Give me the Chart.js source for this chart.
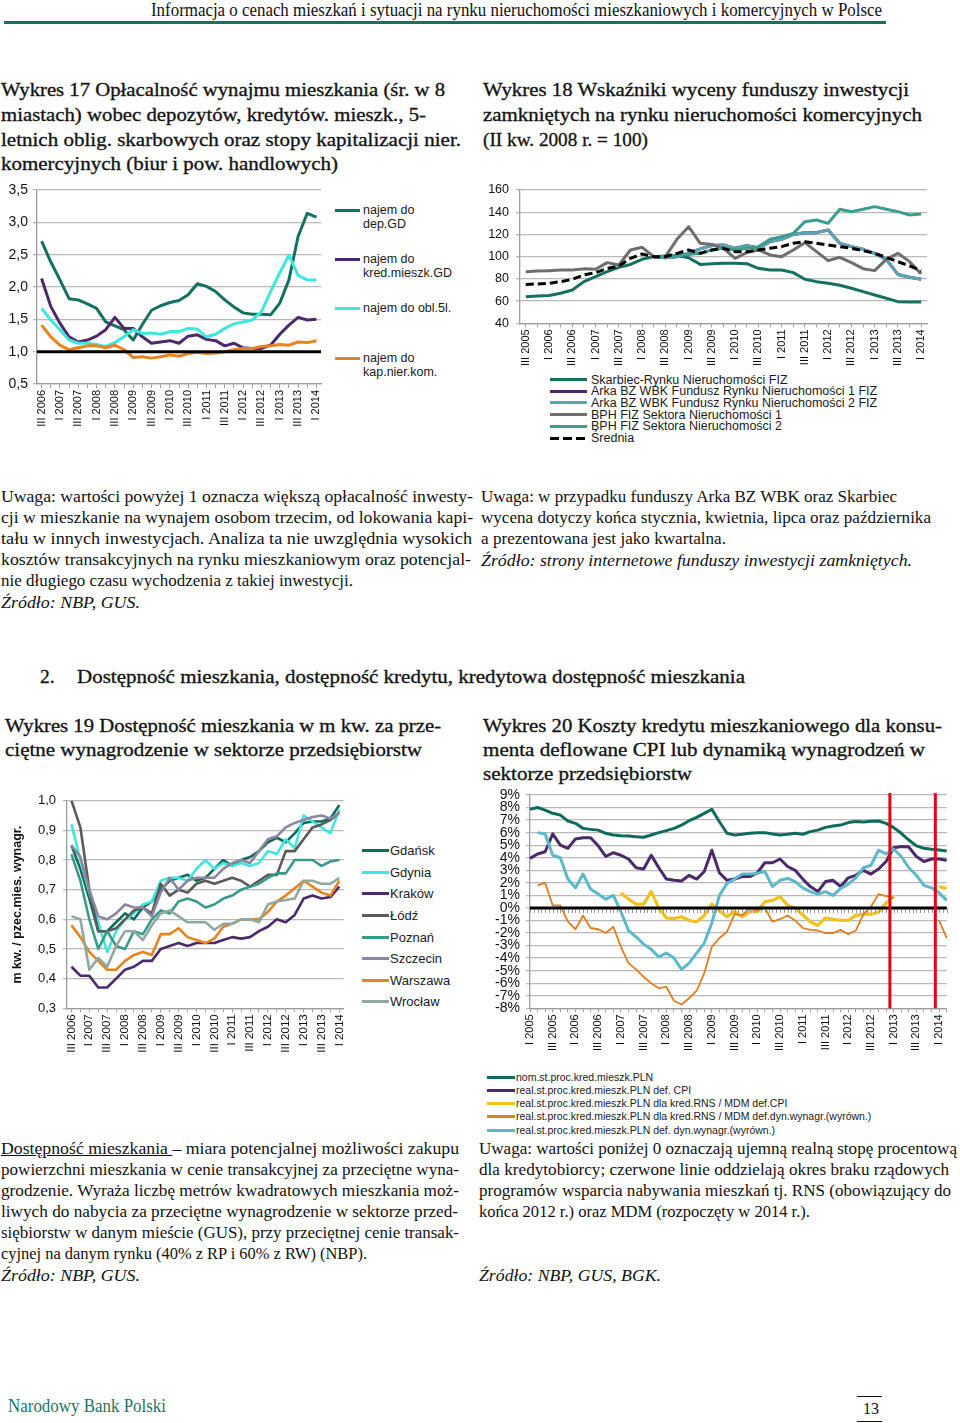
<!DOCTYPE html>
<html lang="pl"><head><meta charset="utf-8">
<title>Informacja o cenach mieszkań – wykresy 17–20</title>
<script src="https://cdn.jsdelivr.net/npm/chart.js@4.4.1/dist/chart.umd.min.js"></script>
<style>
html,body{margin:0;padding:0;background:#fff;}
#page{position:relative;width:960px;height:1423px;overflow:hidden;font-family:"Liberation Serif","Times New Roman",serif;color:#111;}
.l{position:absolute;white-space:nowrap;transform-origin:0 50%;}
.ttl{font-size:19.5px;line-height:24.5px;color:#141414;-webkit-text-stroke:0.35px #141414;}
.txt{font-size:16px;line-height:21px;}
.it{font-style:italic;}
canvas{position:absolute;}
.sw{position:absolute;height:3px;}
.lt{position:absolute;font-family:"Liberation Sans",Arial,sans-serif;white-space:nowrap;color:#1a1a1a;}
</style></head><body><div id="page">

<div class="l" style="left:151px;top:0px;font-size:18px;line-height:20px" data-w="731">Informacja o cenach mieszkań i sytuacji na rynku nieruchomości mieszkaniowych i komercyjnych w Polsce</div>
<div style="position:absolute;left:4px;top:21px;width:882px;height:2.5px;background:#1e6c64"></div>

<!-- Titles 17 / 18 -->
<div class="l ttl" style="left:1px;top:78px" data-w="444">Wykres 17 Opłacalność wynajmu mieszkania (śr. w 8</div>
<div class="l ttl" style="left:1px;top:103px" data-w="425">miastach) wobec depozytów, kredytów. mieszk., 5-</div>
<div class="l ttl" style="left:1px;top:128px" data-w="460">letnich oblig. skarbowych oraz stopy kapitalizacji nier.</div>
<div class="l ttl" style="left:1px;top:152px" data-w="337">komercyjnych (biur i pow. handlowych)</div>

<div class="l ttl" style="left:483px;top:78px" data-w="426">Wykres 18 Wskaźniki wyceny funduszy inwestycji</div>
<div class="l ttl" style="left:483px;top:103px" data-w="439">zamkniętych na rynku nieruchomości komercyjnych</div>
<div class="l ttl" style="left:483px;top:128px" data-w="165">(II kw. 2008 r. = 100)</div>

<canvas id="c17" width="330" height="250" style="left:0px;top:180px"></canvas>
<canvas id="c18" width="470" height="190" style="left:480px;top:180px"></canvas>

<!-- legend 17 -->
<div class="sw" style="left:335px;top:208.5px;width:25px;background:#14705f"></div>
<div class="lt" style="left:363px;top:203px;font-size:12.5px;line-height:14px">najem do<br>dep.GD</div>
<div class="sw" style="left:335px;top:257.5px;width:25px;background:#4b2a6b"></div>
<div class="lt" style="left:363px;top:252px;font-size:12.5px;line-height:14px">najem do<br>kred.mieszk.GD</div>
<div class="sw" style="left:335px;top:306.5px;width:25px;background:#3fe6dc"></div>
<div class="lt" style="left:363px;top:301px;font-size:12.5px;line-height:14px">najem do obl.5l.</div>
<div class="sw" style="left:335px;top:356.5px;width:25px;background:#e8831f"></div>
<div class="lt" style="left:363px;top:351px;font-size:12.5px;line-height:14px">najem do<br>kap.nier.kom.</div>

<!-- legend 18 -->
<div class="sw" style="left:550px;top:378px;width:37px;background:#16705f"></div>
<div class="lt" style="left:591px;top:373.5px;font-size:12.5px;line-height:12px">Skarbiec-Rynku Nieruchomości FIZ</div>
<div class="sw" style="left:550px;top:389.7px;width:37px;background:#4b2a6b"></div>
<div class="lt" style="left:591px;top:385.2px;font-size:12.5px;line-height:12px">Arka BZ WBK Fundusz Rynku Nieruchomości 1 FIZ</div>
<div class="sw" style="left:550px;top:401.4px;width:37px;background:#5da3b3"></div>
<div class="lt" style="left:591px;top:396.9px;font-size:12.5px;line-height:12px">Arka BZ WBK Fundusz Rynku Nieruchomości 2 FIZ</div>
<div class="sw" style="left:550px;top:413.1px;width:37px;background:#6e6e6e"></div>
<div class="lt" style="left:591px;top:408.6px;font-size:12.5px;line-height:12px">BPH FIZ Sektora Nieruchomości 1</div>
<div class="sw" style="left:550px;top:424.8px;width:37px;background:#3d9d8c"></div>
<div class="lt" style="left:591px;top:420.3px;font-size:12.5px;line-height:12px">BPH FIZ Sektora Nieruchomości 2</div>
<div class="sw" style="left:550px;top:436.5px;width:37px;background:repeating-linear-gradient(90deg,#000 0 9px,transparent 9px 13px)"></div>
<div class="lt" style="left:591px;top:432px;font-size:12.5px;line-height:12px">Średnia</div>

<!-- notes 17 -->
<div class="l txt" style="left:1px;top:485.5px" data-w="472">Uwaga: wartości powyżej 1 oznacza większą opłacalność inwesty-</div>
<div class="l txt" style="left:1px;top:506.5px" data-w="472">cji w mieszkanie na wynajem osobom trzecim, od lokowania kapi-</div>
<div class="l txt" style="left:1px;top:527.5px" data-w="471">tału w innych inwestycjach. Analiza ta nie uwzględnia wysokich</div>
<div class="l txt" style="left:1px;top:548.5px" data-w="470">kosztów transakcyjnych na rynku mieszkaniowym oraz potencjal-</div>
<div class="l txt" style="left:1px;top:569.5px" data-w="352">nie długiego czasu wychodzenia z takiej inwestycji.</div>
<div class="l txt it" style="left:1px;top:591.5px" data-w="139">Źródło: NBP, GUS.</div>

<!-- notes 18 -->
<div class="l txt" style="left:481px;top:485.5px" data-w="416">Uwaga: w przypadku funduszy Arka BZ WBK oraz Skarbiec</div>
<div class="l txt" style="left:481px;top:506.5px" data-w="450">wycena dotyczy końca stycznia, kwietnia, lipca oraz października</div>
<div class="l txt" style="left:481px;top:527.5px" data-w="245">a prezentowana jest jako kwartalna.</div>
<div class="l txt it" style="left:481px;top:549.5px" data-w="431">Źródło: strony internetowe funduszy inwestycji zamkniętych.</div>

<!-- section heading -->
<div class="l ttl" style="left:40px;top:665px">2.</div>
<div class="l ttl" style="left:77px;top:665px" data-w="668">Dostępność mieszkania, dostępność kredytu, kredytowa dostępność mieszkania</div>

<!-- Titles 19 / 20 -->
<div class="l ttl" style="left:5px;top:714px" data-w="436">Wykres 19 Dostępność mieszkania w m kw. za prze-</div>
<div class="l ttl" style="left:5px;top:738px" data-w="417">ciętne wynagrodzenie w sektorze przedsiębiorstw</div>
<div class="l ttl" style="left:483px;top:714px" data-w="459">Wykres 20 Koszty kredytu mieszkaniowego dla konsu-</div>
<div class="l ttl" style="left:483px;top:738px" data-w="442">menta deflowane CPI lub dynamiką wynagrodzeń w</div>
<div class="l ttl" style="left:483px;top:762px" data-w="209">sektorze przedsiębiorstw</div>

<canvas id="c19" width="352" height="270" style="left:0px;top:790px"></canvas>
<canvas id="c20" width="475" height="270" style="left:480px;top:785px"></canvas>

<!-- legend 19 -->
<div class="sw" style="left:362px;top:849.2px;width:27px;background:#0f6b5c"></div>
<div class="lt" style="left:390px;top:843.2px;font-size:13px;line-height:15px">Gdańsk</div>
<div class="sw" style="left:362px;top:870.8px;width:27px;background:#3fe6dc"></div>
<div class="lt" style="left:390px;top:864.8px;font-size:13px;line-height:15px">Gdynia</div>
<div class="sw" style="left:362px;top:892.4px;width:27px;background:#4b2a6b"></div>
<div class="lt" style="left:390px;top:886.4px;font-size:13px;line-height:15px">Kraków</div>
<div class="sw" style="left:362px;top:914px;width:27px;background:#5a5a5a"></div>
<div class="lt" style="left:390px;top:908px;font-size:13px;line-height:15px">Łódź</div>
<div class="sw" style="left:362px;top:935.6px;width:27px;background:#3a9a89"></div>
<div class="lt" style="left:390px;top:929.6px;font-size:13px;line-height:15px">Poznań</div>
<div class="sw" style="left:362px;top:957.2px;width:27px;background:#8b86a1"></div>
<div class="lt" style="left:390px;top:951.2px;font-size:13px;line-height:15px">Szczecin</div>
<div class="sw" style="left:362px;top:978.8px;width:27px;background:#e8831f"></div>
<div class="lt" style="left:390px;top:972.8px;font-size:13px;line-height:15px">Warszawa</div>
<div class="sw" style="left:362px;top:1000.4px;width:27px;background:#8ea9a0"></div>
<div class="lt" style="left:390px;top:994.4px;font-size:13px;line-height:15px">Wrocław</div>

<!-- legend 20 -->
<div class="sw" style="left:487px;top:1075.5px;width:28px;background:#0f6b5c"></div>
<div class="lt" style="left:516px;top:1070.5px;font-size:10.5px;line-height:13px">nom.st.proc.kred.mieszk.PLN</div>
<div class="sw" style="left:487px;top:1088.8px;width:28px;background:#4b2a6b"></div>
<div class="lt" style="left:516px;top:1083.8px;font-size:10.5px;line-height:13px">real.st.proc.kred.mieszk.PLN def. CPI</div>
<div class="sw" style="left:487px;top:1102.1px;width:28px;background:#f3c11c"></div>
<div class="lt" style="left:516px;top:1097.1px;font-size:10.5px;line-height:13px">real.st.proc.kred.mieszk.PLN dla kred.RNS / MDM def.CPI</div>
<div class="sw" style="left:487px;top:1115.4px;width:28px;background:#e27d20"></div>
<div class="lt" style="left:516px;top:1110.4px;font-size:10.5px;line-height:13px">real.st.proc.kred.mieszk.PLN dla kred.RNS / MDM def.dyn.wynagr.(wyrówn.)</div>
<div class="sw" style="left:487px;top:1128.7px;width:28px;background:#5cb8cc"></div>
<div class="lt" style="left:516px;top:1123.7px;font-size:10.5px;line-height:13px">real.st.proc.kred.mieszk.PLN def. dyn.wynagr.(wyrówn.)</div>

<!-- notes 19 -->
<div class="l txt" style="left:1px;top:1137.5px" data-w="458"><u>Dostępność mieszkania </u>– miara potencjalnej możliwości zakupu</div>
<div class="l txt" style="left:1px;top:1158.5px" data-w="458">powierzchni mieszkania w cenie transakcyjnej za przeciętne wyna-</div>
<div class="l txt" style="left:1px;top:1179.5px" data-w="458">grodzenie. Wyraża liczbę metrów kwadratowych mieszkania moż-</div>
<div class="l txt" style="left:1px;top:1200.5px" data-w="457">liwych do nabycia za przeciętne wynagrodzenie w sektorze przed-</div>
<div class="l txt" style="left:1px;top:1221.5px" data-w="458">siębiorstw w danym mieście (GUS), przy przeciętnej cenie transak-</div>
<div class="l txt" style="left:1px;top:1242.5px" data-w="366">cyjnej na danym rynku (40% z RP i 60% z RW) (NBP).</div>
<div class="l txt it" style="left:1px;top:1264.5px" data-w="139">Źródło: NBP, GUS.</div>

<!-- notes 20 -->
<div class="l txt" style="left:479px;top:1137.5px" data-w="478">Uwaga: wartości poniżej 0 oznaczają ujemną realną stopę procentową</div>
<div class="l txt" style="left:479px;top:1158.5px" data-w="470">dla kredytobiorcy; czerwone linie oddzielają okres braku rządowych</div>
<div class="l txt" style="left:479px;top:1179.5px" data-w="472">programów wsparcia nabywania mieszkań tj. RNS (obowiązujący do</div>
<div class="l txt" style="left:479px;top:1200.5px" data-w="331">końca 2012 r.) oraz MDM (rozpoczęty w 2014 r.).</div>
<div class="l txt it" style="left:479px;top:1264.5px" data-w="182">Źródło: NBP, GUS, BGK.</div>

<!-- footer -->
<div class="l" style="left:8px;top:1396px;font-size:18px;line-height:20px;color:#1d7469" data-w="158">Narodowy Bank Polski</div>
<div style="position:absolute;left:857px;top:1395.5px;width:25px;height:1.5px;background:#111"></div>
<div class="l" style="left:863px;top:1399px;font-size:16px;line-height:20px">13</div>
<div style="position:absolute;left:857px;top:1420.5px;width:25px;height:1.5px;background:#111"></div>

</div>
<script>
// ---------- Wykres 17 ----------
const quarters17 = ['III 2006','IV 2006','I 2007','II 2007','III 2007','IV 2007','I 2008','II 2008','III 2008','IV 2008','I 2009','II 2009','III 2009','IV 2009','I 2010','II 2010','III 2010','IV 2010','I 2011','II 2011','III 2011','IV 2011','I 2012','II 2012','III 2012','IV 2012','I 2013','II 2013','III 2013','IV 2013','I 2014'];
const depGD17   = [2.71,2.39,2.11,1.82,1.80,1.74,1.67,1.46,1.40,1.34,1.18,1.42,1.64,1.71,1.76,1.79,1.88,2.05,2.01,1.93,1.80,1.69,1.60,1.58,1.58,1.57,1.75,2.11,2.78,3.14,3.08];
const kredGD17  = [2.13,1.70,1.44,1.23,1.15,1.18,1.24,1.34,1.53,1.36,1.36,1.23,1.13,1.15,1.17,1.13,1.24,1.26,1.19,1.17,1.09,1.13,1.06,1.05,1.05,1.10,1.27,1.41,1.53,1.49,1.50];
const obl5l17   = [1.67,1.49,1.34,1.18,1.13,1.13,1.11,1.08,1.14,1.23,1.34,1.28,1.29,1.27,1.31,1.31,1.36,1.35,1.23,1.27,1.36,1.43,1.46,1.49,1.62,1.93,2.22,2.49,2.18,2.11,2.11];
const kapNier17 = [1.41,1.23,1.10,1.03,1.06,1.09,1.09,1.06,1.10,1.03,0.91,0.92,0.90,0.92,0.95,0.93,0.97,0.99,0.97,0.98,1.00,1.03,1.05,1.05,1.08,1.09,1.11,1.10,1.15,1.14,1.17];
const refLine17 = 1;

// ---------- Wykres 18 ----------
const quarters18 = ['III 2005','IV 2005','I 2006','II 2006','III 2006','IV 2006','I 2007','II 2007','III 2007','IV 2007','I 2008','II 2008','III 2008','IV 2008','I 2009','II 2009','III 2009','IV 2009','I 2010','II 2010','III 2010','IV 2010','I 2011','II 2011','III 2011','IV 2011','I 2012','II 2012','III 2012','IV 2012','I 2013','II 2013','III 2013','IV 2013','I 2014'];
const skarbiec18 = [64,64.6,65,67,70,77.5,82,86.5,90.4,93,97.6,100,100.6,101,99,93,93.5,94,94,93.7,89.5,88,88,85.6,79.6,77.5,76,74.2,71.5,68.5,65.5,62.5,59.5,59.2,59.2];
const arka1_18 = [null,null,null,null,null,null,null,null,null,null,null,100,99,100,103,107,110,110.5,107.5,110,107.5,113.5,115.6,120,121.6,121.6,124,112,109,106.6,103,97.6,84,81.4,79.6];
const arka2_18 = [null,null,null,null,null,null,null,null,null,null,null,100,99,100,103,107,110,110.5,107.5,110,107.5,113.5,115.6,120,121.6,121.6,124,112,109,106.6,103,97.6,84,81.4,79.6];
const bph1_18 = [86.5,87,87.4,88,88,89,88.6,94.6,92.5,106,108.4,100,100,115.6,127,112,111,107.5,98.5,103.6,106,101.5,100,106,112.6,104.5,96.4,99.4,94.6,89.2,87.4,97.6,103,95.5,84.4];
const bph2_18 = [null,null,null,null,null,null,null,null,null,null,null,100,100,101,102,103,106,107.5,106,107.5,109,115.6,118,121,131.5,133,130,142.6,140.5,142.6,145,142.6,140.5,137.5,138.4];
const srednia18 = [75,75.4,76,77.5,79.6,83.5,85.6,89.5,91.6,98.5,102.4,100,100,103,106,103,106,107.5,104.5,104.5,106,107.5,109,112,113.5,112,110.5,109,107.5,105.4,103,99.4,95.5,91.6,87.4];

// ---------- Wykres 19 ----------
const quarters19 = ['III 2006','IV 2006','I 2007','II 2007','III 2007','IV 2007','I 2008','II 2008','III 2008','IV 2008','I 2009','II 2009','III 2009','IV 2009','I 2010','II 2010','III 2010','IV 2010','I 2011','II 2011','III 2011','IV 2011','I 2012','II 2012','III 2012','IV 2012','I 2013','II 2013','III 2013','IV 2013','I 2014'];
const gdansk19   = [0.85,0.77,0.67,0.56,0.56,0.59,0.62,0.60,0.64,0.66,0.70,0.73,0.74,0.75,0.73,0.74,0.77,0.80,0.78,0.80,0.81,0.83,0.86,0.875,0.86,0.89,0.925,0.93,0.93,0.94,0.985];
const gdynia19   = [0.92,0.80,0.69,0.59,0.49,0.56,0.60,0.62,0.65,0.66,0.73,0.74,0.74,0.73,0.77,0.80,0.77,0.79,0.78,0.79,0.78,0.79,0.83,0.82,0.87,0.84,0.95,0.93,0.91,0.89,0.97];
const krakow19   = [0.44,0.41,0.41,0.37,0.37,0.40,0.43,0.44,0.46,0.46,0.50,0.51,0.52,0.51,0.52,0.52,0.52,0.53,0.54,0.535,0.54,0.56,0.575,0.60,0.59,0.615,0.67,0.68,0.67,0.675,0.71];
const lodz19     = [1.00,0.91,0.70,0.56,0.56,0.57,0.60,0.63,0.64,0.62,0.72,0.68,0.70,0.69,0.72,0.73,0.72,0.73,0.74,0.73,0.71,0.73,0.75,0.75,0.83,0.83,0.87,0.91,0.92,0.935,0.96];
const poznan19   = [0.82,0.73,0.60,0.50,0.56,0.51,0.50,0.56,0.55,0.60,0.63,0.62,0.66,0.67,0.66,0.64,0.65,0.67,0.68,0.70,0.71,0.72,0.74,0.755,0.755,0.80,0.80,0.80,0.78,0.795,0.80];
const szczecin19 = [0.85,0.81,0.70,0.61,0.60,0.62,0.65,0.64,0.64,0.61,0.69,0.74,0.70,0.73,0.74,0.74,0.74,0.77,0.79,0.80,0.79,0.83,0.87,0.88,0.91,0.925,0.935,0.945,0.95,0.94,0.96];
const warszawa19 = [0.58,0.54,0.49,0.46,0.43,0.43,0.46,0.48,0.49,0.48,0.55,0.55,0.57,0.54,0.53,0.52,0.535,0.575,0.585,0.60,0.60,0.60,0.625,0.66,0.68,0.705,0.73,0.71,0.69,0.68,0.73];
const wroclaw19  = [0.61,0.60,0.43,0.47,0.44,0.51,0.56,0.56,0.53,0.58,0.62,0.63,0.61,0.59,0.59,0.59,0.565,0.585,0.585,0.60,0.60,0.59,0.65,0.66,0.665,0.67,0.73,0.73,0.72,0.72,0.74];

// ---------- Wykres 20 (co dwa miesiące) ----------
const periods20 = ['2005-01','2005-03','2005-05','2005-07','2005-09','2005-11','2006-01','2006-03','2006-05','2006-07','2006-09','2006-11','2007-01','2007-03','2007-05','2007-07','2007-09','2007-11','2008-01','2008-03','2008-05','2008-07','2008-09','2008-11','2009-01','2009-03','2009-05','2009-07','2009-09','2009-11','2010-01','2010-03','2010-05','2010-07','2010-09','2010-11','2011-01','2011-03','2011-05','2011-07','2011-09','2011-11','2012-01','2012-03','2012-05','2012-07','2012-09','2012-11','2013-01','2013-03','2013-05','2013-07','2013-09','2013-11','2014-01','2014-03'];
const ticks20 = ['I 2005','III 2005','I 2006','III 2006','I 2007','III 2007','I 2008','III 2008','I 2009','III 2009','I 2010','III 2010','I 2011','III 2011','I 2012','III 2012','I 2013','III 2013','I 2014'];
const nom20 = [7.86,8.0,7.8,7.54,7.4,6.93,6.74,6.34,6.26,6.2,5.95,5.81,5.76,5.73,5.68,5.63,5.81,6.0,6.16,6.34,6.6,6.95,7.22,7.54,7.86,6.87,5.95,5.81,5.87,5.95,6.0,6.0,5.89,5.81,5.87,5.95,5.87,6.08,6.2,6.42,6.53,6.6,6.8,6.88,6.85,6.9,6.93,6.74,6.4,5.95,5.41,4.94,4.75,4.67,4.62,4.54];
const cpi20 = [3.95,4.3,4.48,5.9,5.0,4.75,5.5,5.6,5.6,4.95,4.1,4.4,4.2,3.9,3.2,3.1,4.2,3.2,2.3,2.2,2.15,2.6,2.3,2.9,4.6,2.8,2.2,2.3,2.5,2.5,2.8,3.6,3.6,3.9,3.3,3.0,2.3,1.7,1.3,2.1,2.2,1.7,2.4,2.6,3.0,2.7,3.1,3.7,4.8,4.9,4.85,4.1,3.7,3.9,3.9,3.8];
const rnsCpi20 = [null,null,null,null,null,null,null,null,null,null,null,null,1.2,0.7,0.3,0.3,1.3,0.0,-0.8,-0.85,-0.7,-1.0,-1.1,-0.6,0.3,-0.2,-0.7,-0.3,-0.7,-0.3,-0.3,0.5,0.6,0.9,0.2,0.0,-0.55,-1.1,-1.4,-0.8,-0.9,-1.0,-1.0,-0.6,-0.5,-0.5,-0.35,0.4,0.9,null,null,null,null,null,1.7,1.55];
const rnsWyn20 = [null,1.8,2.0,0.2,0.2,-1.1,-1.7,-0.6,-1.6,-1.7,-2.0,-1.5,-3.1,-4.4,-4.9,-5.5,-6.0,-6.4,-6.3,-7.4,-7.7,-7.2,-6.6,-5.2,-3.1,-2.4,-1.9,-0.5,-0.6,0.0,-0.2,0.0,-1.1,-0.9,-0.6,-1.0,-1.6,-1.75,-1.8,-2.0,-2.0,-1.75,-2.1,-1.8,-0.5,0.1,1.1,0.95,0.8,null,null,null,null,null,-1.0,-2.4];
const wyn20 = [null,6.0,5.9,4.2,4.0,2.3,1.6,2.7,1.5,1.1,0.7,1.0,-0.3,-1.8,-2.3,-2.9,-3.3,-3.9,-3.6,-4.0,-4.9,-4.4,-3.6,-2.8,-1.2,1.0,1.95,2.3,2.7,2.7,2.75,2.9,1.7,2.2,2.35,2.1,1.6,1.3,1.1,1.3,1.0,1.55,1.9,2.4,3.2,3.4,4.6,4.3,4.7,4.1,3.2,2.6,1.8,1.6,1.2,0.6];
const redLines20 = [47.5, 53.5];   // koniec RNS (XII 2012) i start MDM (I 2014)
const zeroLine20 = 0;

// ---------- helpers ----------
const SANS = '"Liberation Sans", Arial, sans-serif';
const GRID = '#b9b9b9', AX = '#9c9c9c';
Chart.defaults.font.family = SANS;
Chart.defaults.color = '#111';

const refs = {
  id: 'refs',
  afterDatasetsDraw(chart, args, o) {
    const {ctx, chartArea: a, scales: {x, y}} = chart;
    ctx.save();
    (o.ticks || []).forEach(t => {
      const py = y.getPixelForValue(t.value);
      ctx.strokeStyle = t.color; ctx.lineWidth = 1;
      for (let i = t.from; i <= t.to + 1e-9; i += t.step) {
        const px = Math.round(x.getPixelForValue(i)) + 0.5;
        ctx.beginPath(); ctx.moveTo(px, py); ctx.lineTo(px, py + t.len); ctx.stroke();
      }
    });
    (o.h || []).forEach(l => {
      const py = y.getPixelForValue(l.value);
      ctx.strokeStyle = l.color; ctx.lineWidth = l.width;
      ctx.beginPath(); ctx.moveTo(a.left, py); ctx.lineTo(a.right, py); ctx.stroke();
    });
    (o.v || []).forEach(l => {
      const px = x.getPixelForValue(l.value);
      ctx.strokeStyle = l.color; ctx.lineWidth = l.width;
      ctx.beginPath(); ctx.moveTo(px, a.top - 2); ctx.lineTo(px, a.bottom); ctx.stroke();
    });
    ctx.restore();
  }
};

function ds(label, data, color, w, extra) {
  return Object.assign({label, data, borderColor: color, backgroundColor: color, borderWidth: w,
    pointRadius: 0, pointHoverRadius: 0, tension: 0, fill: false, spanGaps: false,
    borderJoinStyle: 'round'}, extra || {});
}
function withOrder(sets) { const n = sets.length; sets.forEach((s, i) => { s.order = n - i; }); return sets; }

function mk(id, labels, sets, o) {
  return new Chart(document.getElementById(id), {
    type: 'line',
    data: {labels, datasets: withOrder(sets)},
    options: {
      responsive: false, animation: false, events: [],
      layout: {padding: o.pad},
      plugins: {legend: {display: false}, tooltip: {enabled: false}, refs: o.refs || {}},
      scales: {
        x: {type: 'category', offset: o.offset,
          grid: {display: true, drawOnChartArea: false, drawTicks: true, tickLength: 4, color: AX, lineWidth: 1},
          border: {display: true, color: AX, width: 1.3},
          ticks: {autoSkip: false, minRotation: 90, maxRotation: 90, padding: 2, color: '#111',
                  font: {family: SANS, size: o.xfs}, callback: o.xcb},
          afterFit: s => { s.height = o.xh; s.paddingLeft = 0; s.paddingRight = 0; }},
        y: {min: o.min, max: o.max,
          grid: {color: GRID, lineWidth: 1.3, drawTicks: true, tickLength: 4},
          border: {display: true, color: AX, width: 1.3},
          ticks: {stepSize: o.step, autoSkip: false, padding: o.ypad, color: '#111',
                  font: {family: SANS, size: o.yfs, lineHeight: 1}, callback: o.ycb},
          title: o.ytitle || {display: false},
          afterFit: s => { s.width = o.yw; s.paddingTop = 0; s.paddingBottom = 0; }}
      }
    },
    plugins: [refs]
  });
}
const comma = v => Number(v).toFixed(1).replace('.', ',');

// Wykres 17
mk('c17', quarters17, [
  ds('najem do dep.GD', depGD17, '#14705f', 3),
  ds('najem do kred.mieszk.GD', kredGD17, '#4b2a6b', 3),
  ds('najem do obl.5l.', obl5l17, '#3fe6dc', 3),
  ds('najem do kap.nier.kom.', kapNier17, '#e8831f', 3)
], {pad: {left: 0, top: 10, right: 9, bottom: 0}, offset: true, xh: 46, yw: 37, min: 0.5, max: 3.5, step: 0.5,
    xfs: 11, yfs: 14, ypad: 5, ycb: comma,
    xcb: function (v, i) { return i % 2 === 0 ? this.getLabelForValue(v) : ''; },
    refs: {h: [{value: refLine17, color: '#000', width: 3}]}});

// Wykres 18
mk('c18', quarters18, [
  ds('Skarbiec-Rynku Nieruchomości FIZ', skarbiec18, '#16705f', 3),
  ds('Arka BZ WBK Fundusz Rynku Nieruchomości 1 FIZ', arka1_18, '#4b2a6b', 3),
  ds('Arka BZ WBK Fundusz Rynku Nieruchomości 2 FIZ', arka2_18, '#5da3b3', 3),
  ds('BPH FIZ Sektora Nieruchomości 1', bph1_18, '#6e6e6e', 3),
  ds('BPH FIZ Sektora Nieruchomości 2', bph2_18, '#3d9d8c', 3),
  ds('Średnia', srednia18, '#000000', 3, {borderDash: [8, 4]})
], {pad: {left: 0, top: 10, right: 23, bottom: 0}, offset: true, xh: 46.7, yw: 40, min: 40, max: 160, step: 20,
    xfs: 11, yfs: 12.5, ypad: 7, ycb: v => v,
    xcb: function (v, i) { return i % 2 === 0 ? this.getLabelForValue(v) : ''; }});

// Wykres 19
mk('c19', quarters19, [
  ds('Gdańsk', gdansk19, '#0f6b5c', 2.6),
  ds('Gdynia', gdynia19, '#3fe6dc', 2.6),
  ds('Kraków', krakow19, '#4b2a6b', 2.6),
  ds('Łódź', lodz19, '#5a5a5a', 2.6),
  ds('Poznań', poznan19, '#3a9a89', 2.6),
  ds('Szczecin', szczecin19, '#8b86a1', 2.6),
  ds('Warszawa', warszawa19, '#e8831f', 2.6),
  ds('Wrocław', wroclaw19, '#8ea9a0', 2.6)
], {pad: {left: 10, top: 10.7, right: 8.2, bottom: 0}, offset: true, xh: 51.7, yw: 57, min: 0.3, max: 1.0, step: 0.1,
    xfs: 11.5, yfs: 13, ypad: 7, ycb: comma,
    xcb: function (v, i) { return i % 2 === 0 ? this.getLabelForValue(v) : ''; },
    ytitle: {display: true, text: 'm kw. / pzec.mies. wynagr.', color: '#111',
             font: {family: SANS, size: 12.5, weight: 'bold'}, padding: {top: 0, bottom: 0}}});

// Wykres 20
mk('c20', periods20, [
  ds('nom.st.proc.kred.mieszk.PLN', nom20, '#0f6b5c', 3),
  ds('real.st.proc.kred.mieszk.PLN def. CPI', cpi20, '#4b2a6b', 3),
  ds('real.st.proc.kred.mieszk.PLN dla kred.RNS / MDM def.CPI', rnsCpi20, '#f3c11c', 3.2),
  ds('real.st.proc.kred.mieszk.PLN dla kred.RNS / MDM def.dyn.wynagr.(wyrówn.)', rnsWyn20, '#e27d20', 1.8),
  ds('real.st.proc.kred.mieszk.PLN def. dyn.wynagr.(wyrówn.)', wyn20, '#5cb8cc', 3)
], {pad: {left: 0, top: 10, right: 8.3, bottom: 0}, offset: false, xh: 46.7, yw: 50, min: -8, max: 9, step: 1,
    xfs: 11, yfs: 14, ypad: 6, ycb: v => v + '%',
    xcb: function (v, i) { return i % 3 === 0 ? ticks20[i / 3] : ''; },
    refs: {ticks: [{value: zeroLine20, from: 0, to: periods20.length - 1, step: 0.5, len: 5, color: '#9a9a9a'}],
           h: [{value: zeroLine20, color: '#000', width: 3}],
           v: redLines20.map(p => ({value: p, color: '#e30613', width: 3}))}});

// dopasowanie szerokości linii tekstu do oryginału
document.querySelectorAll('[data-w]').forEach(el => {
  const w = el.getBoundingClientRect().width;
  const t = +el.dataset.w;
  if (w > 0) el.style.transform = 'scaleX(' + (t / w).toFixed(4) + ')';
});
</script>
</body></html>
